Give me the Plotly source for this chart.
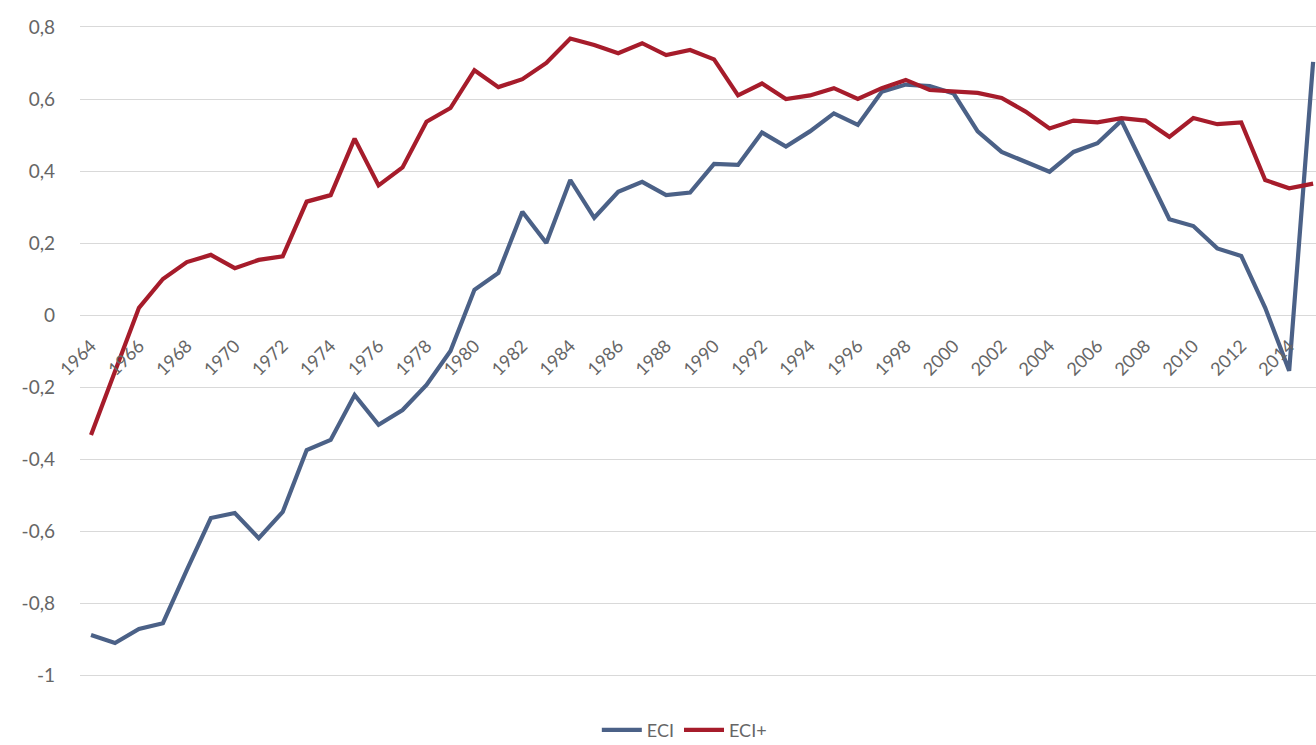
import plotly.graph_objects as go

years = list(range(1964, 2016))

eci = [-0.889, -0.911, -0.872, -0.856, -0.708, -0.564, -0.55, -0.62, -0.547, -0.375,
       -0.347, -0.222, -0.305, -0.264, -0.194, -0.10, 0.07, 0.117, 0.287, 0.20,
       0.375, 0.27, 0.342, 0.37, 0.333, 0.34, 0.42, 0.417, 0.507, 0.468,
       0.51, 0.56, 0.528, 0.62, 0.64, 0.636, 0.615, 0.51, 0.453, 0.426,
       0.398, 0.453, 0.477, 0.54, 0.403, 0.266, 0.247, 0.185, 0.164, 0.02,
       -0.155, 0.703]

eci_plus = [-0.333, -0.16, 0.02, 0.10, 0.147, 0.167, 0.13, 0.153, 0.163, 0.315,
            0.333, 0.49, 0.36, 0.41, 0.537, 0.575, 0.68, 0.633, 0.655, 0.70,
            0.768, 0.75, 0.727, 0.755, 0.722, 0.736, 0.71, 0.61, 0.643, 0.60,
            0.61, 0.63, 0.60, 0.63, 0.653, 0.625, 0.622, 0.617, 0.603, 0.565,
            0.518, 0.54, 0.535, 0.547, 0.54, 0.495, 0.547, 0.53, 0.535, 0.375,
            0.352, 0.365]

x_tick_years = list(range(1964, 2015, 2))
x_tick_labels = [str(y) for y in x_tick_years]
y_tick_vals = [0.8, 0.6, 0.4, 0.2, 0, -0.2, -0.4, -0.6, -0.8, -1]
y_tick_labels = ["0,8", "0,6", "0,4", "0,2", "0", "-0,2", "-0,4", "-0,6", "-0,8", "-1"]

BLUE = "#4b6187"
RED = "#a61c2b"
TXT = "#666666"
FONT = "Lato, Open Sans, sans-serif"

fig = go.Figure()
fig.add_trace(go.Scatter(x=years, y=eci, mode="lines", name="ECI",
                         line=dict(color=BLUE, width=4.2)))
fig.add_trace(go.Scatter(x=years, y=eci_plus, mode="lines", name="ECI+",
                         line=dict(color=RED, width=4.2)))

fig.update_layout(
    width=1316, height=745,
    margin=dict(l=80, r=0, t=10, b=45, autoexpand=False),
    paper_bgcolor="white", plot_bgcolor="white",
    font=dict(family=FONT, color=TXT),
    showlegend=True,
    legend=dict(orientation="h", xref="container", yref="container",
                x=0.52, xanchor="center", y=0.02, yanchor="middle",
                font=dict(size=18, color=TXT, family=FONT), itemwidth=40,
                traceorder="normal"),
    xaxis=dict(
        range=[1963.54, 2015.12],
        tickmode="array", tickvals=x_tick_years, ticktext=x_tick_labels,
        tickangle=-45, showgrid=False, zeroline=False, showline=False,
        ticks="", ticklabelstandoff=16,
        anchor="free", position=0.558,
        tickfont=dict(size=18, color=TXT, family=FONT),
    ),
    yaxis=dict(
        range=[-1.0694, 0.8472],
        tickmode="array", tickvals=y_tick_vals, ticktext=y_tick_labels,
        showgrid=True, gridcolor="#d9d9d9", gridwidth=1,
        zeroline=False, showline=False, ticks="",
        ticklabelstandoff=24,
        tickfont=dict(size=19, color=TXT, family=FONT),
    ),
)

fig.write_html("out.html")
